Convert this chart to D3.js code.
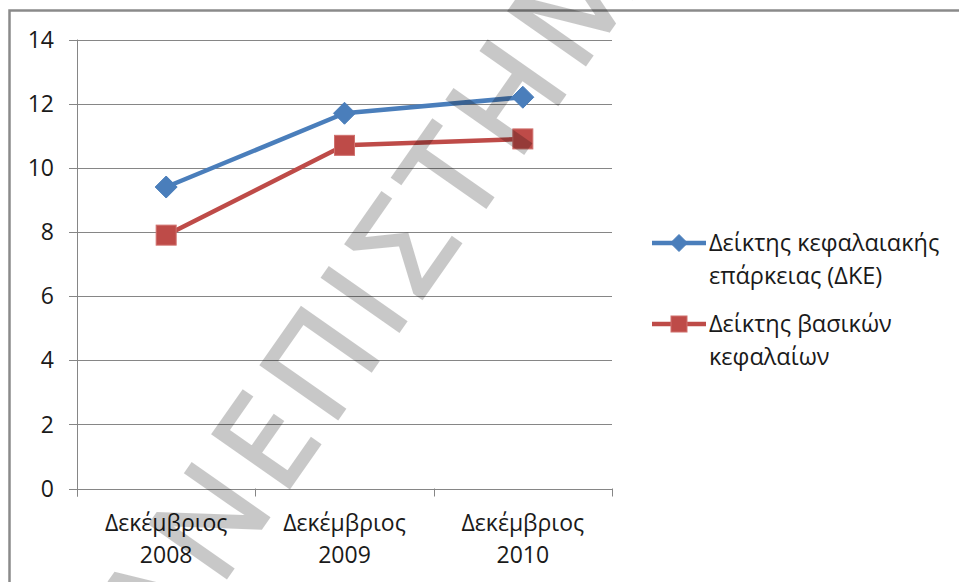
<!DOCTYPE html>
<html>
<head>
<meta charset="utf-8">
<script src="https://cdn.jsdelivr.net/npm/d3@7"></script>
<style>
  html, body { margin: 0; padding: 0; background: #fff; }
  svg { display: block; }
  text { font-family: "Open Sans", "Noto Sans", sans-serif; }
</style>
</head>
<body>
<svg id="chart" width="959" height="582"></svg>
<script>
// Chart data
const categories = [["Δεκέμβριος", "2008"], ["Δεκέμβριος", "2009"], ["Δεκέμβριος", "2010"]];
const seriesNames = [["Δείκτης κεφαλαιακής", "επάρκειας (ΔΚΕ)"], ["Δείκτης βασικών", "κεφαλαίων"]];
const capitalAdequacy = [9.4, 11.7, 12.2];
const coreCapital = [7.9, 10.7, 10.9];
const yTicks = [0, 2, 4, 6, 8, 10, 12, 14];
const watermarkText = "ΠΑΝΕΠΙΣΤΗΜΙΟ";

const colors = ["#4a7ebb", "#be4b48"];
const markers = ["diamond", "square"];
const seriesValues = [capitalAdequacy, coreCapital];

const svg = d3.select("#chart");

// Outer frame
svg.append("rect")
  .attr("x", 9.5).attr("y", 10.5)
  .attr("width", 1000).attr("height", 1000)
  .attr("fill", "none").attr("stroke", "#8a8a8a").attr("stroke-width", 2.5);

const plot = { left: 77, right: 612, top: 39.5, bottom: 488.5 };

const x = d3.scaleBand()
  .domain(categories.map((d, i) => i))
  .range([plot.left, plot.right])
  .paddingInner(0).paddingOuter(0);

const y = d3.scaleLinear().domain([0, 14]).range([plot.bottom, plot.top]);

// Horizontal gridlines with left tick stubs
svg.append("g")
  .selectAll("line")
  .data(yTicks)
  .join("line")
  .attr("x1", plot.left - 8).attr("x2", plot.right)
  .attr("y1", d => Math.round(y(d)) + 0.5).attr("y2", d => Math.round(y(d)) + 0.5)
  .attr("stroke", "#868686").attr("stroke-width", 1);

// Y axis line
svg.append("line")
  .attr("x1", plot.left + 0.5).attr("x2", plot.left + 0.5)
  .attr("y1", plot.top).attr("y2", plot.bottom + 8)
  .attr("stroke", "#868686");

// Category boundary ticks on the x axis
const boundaries = categories.map((d, i) => x(i)).concat([plot.right]);
svg.append("g")
  .selectAll("line")
  .data(boundaries)
  .join("line")
  .attr("x1", d => Math.round(d) + 0.5).attr("x2", d => Math.round(d) + 0.5)
  .attr("y1", plot.bottom).attr("y2", plot.bottom + 8)
  .attr("stroke", "#868686");

// Y tick labels
svg.append("g")
  .selectAll("text")
  .data(yTicks)
  .join("text")
  .attr("x", 54)
  .attr("y", d => y(d))
  .attr("dy", "0.36em")
  .attr("text-anchor", "end")
  .attr("font-size", 23)
  .attr("fill", "#1a1a1a")
  .text(d => d);

// Category labels (two lines)
const catLabels = svg.append("g")
  .selectAll("text")
  .data(categories)
  .join("text")
  .attr("text-anchor", "middle")
  .attr("font-size", 23)
  .attr("fill", "#1a1a1a");
catLabels.each(function(d, i) {
  const t = d3.select(this);
  d.forEach((line, k) => {
    t.append("tspan")
      .attr("x", x(i) + x.bandwidth() / 2)
      .attr("y", 531 + k * 32)
      .text(line);
  });
});

// Series lines and markers
const line = d3.line()
  .x((d, i) => x(i) + x.bandwidth() / 2)
  .y(d => y(d));

function drawMarker(g, type, cx, cy, size, color) {
  if (type === "diamond") {
    const r = size / 2;
    g.append("path")
      .attr("d", `M${cx},${cy - r}L${cx + r},${cy}L${cx},${cy + r}L${cx - r},${cy}Z`)
      .attr("fill", color).attr("stroke", color).attr("stroke-width", 1);
  } else {
    g.append("rect")
      .attr("x", cx - size / 2).attr("y", cy - size / 2)
      .attr("width", size).attr("height", size)
      .attr("fill", color).attr("stroke", "#d0706d").attr("stroke-width", 1);
  }
}

seriesValues.forEach((vals, s) => {
  const g = svg.append("g");
  g.append("path")
    .datum(vals)
    .attr("d", line)
    .attr("fill", "none")
    .attr("stroke", colors[s])
    .attr("stroke-width", 4.5)
    .attr("stroke-linejoin", "round");
  vals.forEach((v, i) => {
    drawMarker(g, markers[s], x(i) + x.bandwidth() / 2, y(v), markers[s] === "diamond" ? 22 : 20, colors[s]);
  });
});

// Legend
const legend = svg.append("g");
const legendY = [243, 324];
seriesNames.forEach((name, s) => {
  const ly = legendY[s];
  legend.append("line")
    .attr("x1", 652).attr("x2", 706)
    .attr("y1", ly).attr("y2", ly)
    .attr("stroke", colors[s]).attr("stroke-width", 4.5);
  drawMarker(legend, markers[s], 679, ly, markers[s] === "diamond" ? 17 : 16, colors[s]);
  const t = legend.append("text")
    .attr("font-size", 23.5)
    .attr("fill", "#1a1a1a");
  name.forEach((ln, k) => {
    t.append("tspan")
      .attr("x", 709)
      .attr("y", ly + 8 + k * 33)
      .text(ln);
  });
});

// Diagonal watermark across the chart
const wm = svg.append("g")
  .attr("opacity", 0.21)
  .attr("transform", "translate(104,752) rotate(-55)");
wm.append("text")
  .attr("x", 0).attr("y", 0)
  .attr("font-family", "DejaVu Sans")
  .attr("font-size", 130)
  .attr("letter-spacing", 12)
  .attr("fill", "#000")
  .attr("stroke", "#000")
  .attr("stroke-width", 3.5)
  .attr("stroke-linejoin", "miter")
  .text(watermarkText);
</script>
</body>
</html>
